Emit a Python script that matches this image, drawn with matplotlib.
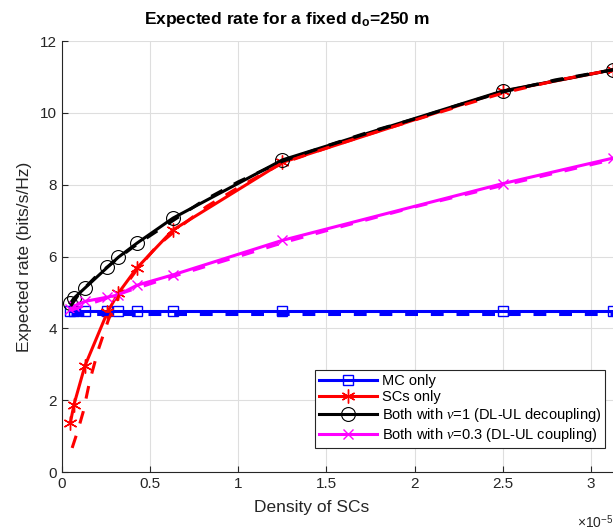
import matplotlib
matplotlib.use('Agg')
import matplotlib.pyplot as plt

plt.rcParams['font.family'] = ['Liberation Sans', 'DejaVu Sans']
plt.rcParams['mathtext.fontset'] = 'custom'
plt.rcParams['mathtext.rm'] = 'Liberation Sans'
plt.rcParams['mathtext.bf'] = 'Liberation Sans:bold'
plt.rcParams['mathtext.it'] = 'Liberation Serif:italic'

# density of small cells (simulation points), in 1e-5
dens_sim = [0.048, 0.068, 0.13, 0.258, 0.32, 0.425, 0.63, 1.25, 2.5, 3.125]
mc_sim = [4.47, 4.47, 4.47, 4.47, 4.47, 4.47, 4.47, 4.47, 4.47, 4.47]
sc_sim = [1.37, 1.87, 2.95, 4.45, 4.98, 5.68, 6.74, 8.62, 10.6, 11.2]
dec_sim = [4.7, 4.84, 5.12, 5.7, 5.98, 6.37, 7.07, 8.69, 10.61, 11.2]
cpl_sim = [4.55, 4.62, 4.75, 4.87, 4.93, 5.2, 5.49, 6.45, 8.03, 8.74]

# analytical curves (dashed)
mc_ana_x = [0.05, 3.125]
mc_ana = [4.41, 4.41]
sc_ana_x = [0.058, 0.09, 0.121, 0.159, 0.206, 0.263, 0.329, 0.424, 0.537, 0.67,
            0.82, 1.01, 1.25, 1.5, 1.75, 2.0, 2.25, 2.5, 2.8, 3.125]
sc_ana = [0.67, 1.15, 1.68, 2.56, 3.4, 4.23, 4.98, 5.63, 6.28, 6.83,
          7.39, 7.95, 8.6, 9.02, 9.42, 9.8, 10.18, 10.55, 10.9, 11.2]
dec_ana_x = [0.05, 0.1, 0.2, 0.3, 0.4, 0.5, 0.63, 0.8, 1.0, 1.25, 1.5, 1.75,
             2.0, 2.25, 2.5, 2.8, 3.125]
dec_ana = [4.62, 4.98, 5.48, 5.88, 6.25, 6.58, 7.0, 7.55, 8.08, 8.65, 9.08, 9.48,
           9.83, 10.22, 10.58, 10.92, 11.2]
cpl_ana_x = [0.05, 0.2, 0.4, 0.6, 0.8, 1.0, 1.25, 1.5, 2.0, 2.5, 3.125]
cpl_ana = [4.5, 4.75, 5.08, 5.4, 5.7, 6.0, 6.38, 6.72, 7.38, 7.98, 8.7]

labels = ['MC only', 'SCs only', r'Both with $\nu$=1 (DL-UL decoupling)',
          r'Both with $\nu$=0.3 (DL-UL coupling)']

def sc(v):
    return [d * 1e-5 for d in v]

fig = plt.figure(figsize=(6.13, 5.30), dpi=100)
ax = fig.add_axes([0.101, 0.1094, 0.899, 0.8132])

lw = 2.2
ax.plot(sc(dens_sim), mc_sim, '-', color='#0000ff', lw=lw, marker='s', ms=7,
        mfc='none', mec='#0000ff', mew=1.0, label=labels[0])
ax.plot(sc(dens_sim), sc_sim, '-', color='#ff0000', lw=lw, marker=(6, 2, 0), ms=10,
        mec='#ff0000', mew=1.0, label=labels[1])
ax.plot(sc(dens_sim), dec_sim, '-', color='black', lw=lw, marker='o', ms=10,
        mfc='none', mec='black', mew=0.8, label=labels[2])
ax.plot(sc(dens_sim), cpl_sim, '-', color='#ff00ff', lw=lw, marker='x', ms=7,
        mec='#ff00ff', mew=1.0, label=labels[3])

dash = (4.2, 4.2)
ax.plot(sc(mc_ana_x), mc_ana, '--', color='#0000ff', lw=lw, dashes=dash)
ax.plot(sc(sc_ana_x), sc_ana, '--', color='#ff0000', lw=lw, dashes=dash)
ax.plot(sc(dec_ana_x), dec_ana, '--', color='black', lw=lw, dashes=dash)
ax.plot(sc(cpl_ana_x), cpl_ana, '--', color='#ff00ff', lw=lw, dashes=dash)

ax.set_xlim(0, 3.125e-5)
ax.set_ylim(0, 12)
ax.set_xticks(sc([0, 0.5, 1, 1.5, 2, 2.5, 3]))
ax.set_xticklabels(['0', '0.5', '1', '1.5', '2', '2.5', '3'])
ax.set_yticks([0, 2, 4, 6, 8, 10, 12])
ax.grid(True, color='#dedede', lw=0.8)
ax.set_axisbelow(True)
ax.tick_params(direction='in', labelsize=11, colors='#262626', length=4)
for s in ['top', 'right']:
    ax.spines[s].set_visible(False)
for s in ['left', 'bottom']:
    ax.spines[s].set_color('#262626')

ax.set_xlabel('Density of SCs', fontsize=12.5, color='#262626', labelpad=5)
ax.xaxis.set_label_coords(0.454, -0.065)
ax.set_ylabel('Expected rate (bits/s/Hz)', fontsize=12.5, color='#262626',
              labelpad=6)
ax.text(1.0, -0.095, r'$\times10^{-5}$', transform=ax.transAxes, ha='right',
        va='top', fontsize=10, color='#262626')
ax.set_title(r'Expected rate for a fixed d$_{\mathbf{o}}$=250 m', fontsize=12.5,
             fontweight='bold', pad=12, x=0.408)

leg = ax.legend(loc='lower right', bbox_to_anchor=(0.985, 0.056), fontsize=10.5,
                handlelength=4.0, fancybox=False, framealpha=1,
                edgecolor='#262626', borderpad=0.25, labelspacing=0.15,
                handletextpad=0.3, borderaxespad=0)
leg.get_frame().set_linewidth(0.8)

fig.savefig('out.png', dpi=100)
